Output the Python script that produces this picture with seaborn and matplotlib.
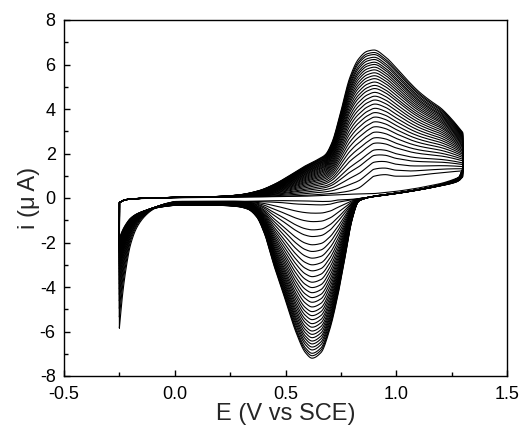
import numpy as np
import pandas as pd
import seaborn as sns
import matplotlib
matplotlib.use("Agg")
import matplotlib.pyplot as plt
from matplotlib.ticker import MultipleLocator

# ---- data -----------------------------------------------------------------
# Peak currents (uA) of each successive deposition cycle
anodic_peaks = [1.05, 1.36, 1.67, 1.97, 2.21, 2.51, 2.75, 3.00, 3.24, 3.46,
                3.67, 3.87, 4.06, 4.25, 4.43, 4.60, 4.77, 4.94, 5.08, 5.23,
                5.38, 5.51, 5.64, 5.77, 5.89, 6.01, 6.11, 6.23, 6.33, 6.45,
                6.54, 6.65]
cathodic_peaks = [-0.31, -0.69, -1.07, -1.44, -1.74, -2.11, -2.41, -2.71,
                  -3.01, -3.28, -3.54, -3.79, -4.03, -4.26, -4.48, -4.69,
                  -4.90, -5.11, -5.29, -5.47, -5.65, -5.81, -5.98, -6.13,
                  -6.28, -6.43, -6.56, -6.70, -6.83, -6.98, -7.09, -7.20]
# Extra reduction current at the negative vertex (initial scan + cycles)
vertex_tails = [5.5, 5.0, 4.6, 4.25, 3.95, 3.7, 3.45, 3.25, 3.05, 2.9, 2.75,
                2.6, 2.5, 2.4, 2.3, 2.2, 2.1, 2.0, 1.95, 1.9, 1.85, 1.8,
                1.75, 1.7, 1.65, 1.6, 1.55, 1.5, 1.45, 1.4, 1.35, 1.3, 1.25]
initial_cathodic = -0.15

# Anodic (forward) sweep profiles
E_fwd = [-0.2495, -0.23, -0.2, -0.1, 0.0, 0.2, 0.29, 0.38, 0.45, 0.52, 0.585,
         0.64, 0.68, 0.71, 0.75, 0.79, 0.83, 0.87, 0.9, 0.95, 1.0, 1.05,
         1.1, 1.15, 1.2, 1.25, 1.3]
i_fwd_initial = [-0.2, -0.1, -0.05, -0.01, 0.01, 0.03, 0.04, 0.05, 0.06,
                 0.07, 0.08, 0.1, 0.12, 0.13, 0.15, 0.17, 0.18, 0.19, 0.2,
                 0.25, 0.3, 0.37, 0.45, 0.55, 0.65, 0.8, 1.0]
i_fwd_first = [-0.2, -0.1, -0.04, 0.0, 0.02, 0.04, 0.05, 0.06, 0.07, 0.09,
               0.12, 0.15, 0.18, 0.2, 0.25, 0.32, 0.45, 0.75, 0.98, 1.05,
               0.98, 0.98, 1.02, 1.08, 1.13, 1.18, 1.22]
i_fwd_last = [-0.2, -0.1, -0.05, 0.0, 0.03, 0.07, 0.14, 0.33, 0.62, 1.02, 1.42,
              1.7, 1.95, 2.5, 3.9, 5.4, 6.25, 6.6, 6.65, 6.35, 5.85, 5.3,
              4.8, 4.4, 4.05, 3.55, 2.95]

# Cathodic (reverse) sweep profiles
E_rev = [1.2995, 1.285, 1.27, 1.2, 1.1, 1.0, 0.9, 0.85, 0.83, 0.80, 0.77,
         0.74, 0.70, 0.66, 0.62, 0.59, 0.55, 0.50, 0.45, 0.405, 0.37, 0.33,
         0.28, 0.2, 0.1, 0.0, -0.05, -0.1, -0.15, -0.2, -0.25]
i_rev_first = [0.95, 0.8, 0.72, 0.55, 0.36, 0.2, 0.07, 0.0, -0.03, -0.08,
               -0.13, -0.18, -0.28, -0.31, -0.30, -0.29, -0.27, -0.22, -0.19,
               -0.17, -0.16, -0.16, -0.15, -0.15, -0.15, -0.16, -0.18, -0.2,
               -0.24, -0.3, -0.35]
i_rev_last = [1.3, 0.95, 0.85, 0.6, 0.38, 0.22, 0.08, -0.05, -0.15, -1.0,
              -2.6, -4.2, -5.9, -6.95, -7.2, -6.95, -6.1, -4.6, -3.1, -1.6,
              -0.85, -0.5, -0.38, -0.33, -0.32, -0.33, -0.36, -0.4, -0.45,
              -0.5, -0.55]

# Relative shape of the vertex reduction tail
E_tail = [-0.25, -0.235, -0.22, -0.2, -0.17, -0.13, -0.1, -0.05, 0.0]
tail_shape = [1.0, 0.72, 0.52, 0.33, 0.19, 0.1, 0.06, 0.02, 0.0]


# ---- helpers --------------------------------------------------------------
def pchip(xk, yk, x):
    """Monotone piecewise cubic Hermite interpolation."""
    xk = np.asarray(xk, float)
    yk = np.asarray(yk, float)
    order = np.argsort(xk)
    xk, yk = xk[order], yk[order]
    h = np.diff(xk)
    d = np.diff(yk) / h
    m = np.zeros_like(yk)
    for k in range(1, len(xk) - 1):
        if d[k - 1] * d[k] > 0:
            w1 = 2 * h[k] + h[k - 1]
            w2 = h[k] + 2 * h[k - 1]
            m[k] = (w1 + w2) / (w1 / d[k - 1] + w2 / d[k])
    m[0], m[-1] = d[0], d[-1]
    x = np.clip(np.asarray(x, float), xk[0], xk[-1])
    idx = np.clip(np.searchsorted(xk, x) - 1, 0, len(h) - 1)
    t = (x - xk[idx]) / h[idx]
    h00 = 2 * t**3 - 3 * t**2 + 1
    h10 = t**3 - 2 * t**2 + t
    h01 = -2 * t**3 + 3 * t**2
    h11 = t**3 - t**2
    return (h00 * yk[idx] + h10 * h[idx] * m[idx]
            + h01 * yk[idx + 1] + h11 * h[idx] * m[idx + 1])


e_f = np.linspace(-0.2495, 1.3, 700)
e_r = np.linspace(1.2995, -0.25, 700)

f_init = pchip(E_fwd, i_fwd_initial, e_f)
f_first = pchip(E_fwd, i_fwd_first, e_f)
f_last = pchip(E_fwd, i_fwd_last, e_f)
r_first = pchip(E_rev, i_rev_first, e_r)
r_last = pchip(E_rev, i_rev_last, e_r)
tail = np.where(e_r < 0.0, pchip(E_tail, tail_shape, e_r), 0.0)

a0, a1 = anodic_peaks[0], anodic_peaks[-1]
c0, c1 = cathodic_peaks[0], cathodic_peaks[-1]

frames = []


def add_cycle(n, fwd, rev_w, depth):
    rev = r_first + rev_w * (r_last - r_first) - depth * tail
    E = np.concatenate([[-0.25], e_f, e_r])
    I = np.concatenate([[rev[-1]], fwd, rev])
    frames.append(pd.DataFrame({"E": E, "i": I, "cycle": n,
                                "step": np.arange(len(E))}))


# initial scan
add_cycle(0, f_init, (initial_cathodic - c0) / (c1 - c0), vertex_tails[0])
# growth cycles
for n, (a, c) in enumerate(zip(anodic_peaks, cathodic_peaks), start=1):
    wa = (a - a0) / (a1 - a0)
    wc = (c - c0) / (c1 - c0)
    add_cycle(n, f_first + wa * (f_last - f_first), wc, vertex_tails[n])

df = pd.concat(frames, ignore_index=True)

# ---- plot -----------------------------------------------------------------
sns.set_style("ticks")
plt.rcParams["font.family"] = ["Liberation Sans", "DejaVu Sans"]
plt.rcParams["axes.unicode_minus"] = False

fig = plt.figure(figsize=(5.23, 4.34), dpi=100)
ax = fig.add_axes([64 / 523, 58 / 434, 443 / 523, 356 / 434])

sns.lineplot(data=df, x="E", y="i", units="cycle", estimator=None,
             sort=False, color="black", linewidth=0.8, legend=False, ax=ax)

ax.set_xlim(-0.5, 1.5)
ax.set_ylim(-8, 8)
ax.xaxis.set_major_locator(MultipleLocator(0.5))
ax.xaxis.set_minor_locator(MultipleLocator(0.25))
ax.yaxis.set_major_locator(MultipleLocator(2))
ax.yaxis.set_minor_locator(MultipleLocator(1))
ax.tick_params(which="both", direction="in", top=False, right=False,
               labelsize=13, width=1.0, colors="black")
ax.tick_params(which="major", length=4.5)
ax.tick_params(which="minor", length=3)
ax.tick_params(axis="x", which="major", pad=7)
ax.tick_params(axis="y", which="major", pad=6)
for s in ax.spines.values():
    s.set_linewidth(1.0)
    s.set_color("black")

ax.set_xlabel("E (V vs SCE)", fontsize=17, labelpad=0)
ax.set_ylabel("i (\u03bc\u2009A)", fontsize=17, labelpad=0)

fig.savefig("out.png", dpi=100)
